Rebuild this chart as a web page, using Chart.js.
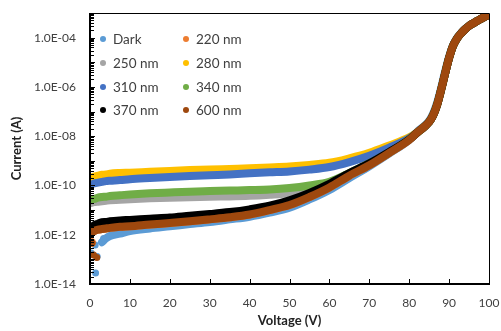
<!DOCTYPE html>
<html><head><meta charset="utf-8">
<script src="https://cdn.jsdelivr.net/npm/chart.js@4.4.1/dist/chart.umd.min.js"></script>
<style>html,body{margin:0;padding:0;background:#fff;}</style>
</head><body>
<canvas id="c" width="501" height="331"></canvas>
<script>
// ---- data (currents in A) ----
const voltage = [0,1,2,3,4,5,7.5,10,15,20,25,30,35,40,45,50,55,60,65,70,75,80,82,84,85,86,87,88,89,90,91,92,93,94,95,96,97,98,99,100];
const seriesNames = ['Dark','220 nm','250 nm','280 nm','310 nm','340 nm','370 nm','600 nm'];
const seriesColors = ['#5B9BD5','#ED7D31','#A5A5A5','#FFC000','#4472C4','#70AD47','#000000','#9E480E'];

const currentDark = [null,null,null,5.0e-13,7.1e-13,8.9e-13,1.1e-12,1.4e-12,1.8e-12,2.2e-12,2.7e-12,3.3e-12,4.2e-12,5.4e-12,7.9e-12,1.26e-11,2.7e-11,6.6e-11,2.0e-10,6.0e-10,2.0e-9,7.1e-9,1.5e-8,2.8e-8,4.2e-8,8.3e-8,2.3e-7,9.1e-7,4.2e-6,1.7e-5,5.0e-5,9.8e-5,1.55e-4,2.25e-4,3.0e-4,3.8e-4,4.7e-4,5.8e-4,7.1e-4,8.5e-4];
const current220 = [1.1e-12,1.4e-12,1.6e-12,1.7e-12,1.8e-12,1.9e-12,2.1e-12,2.2e-12,2.6e-12,3.0e-12,3.5e-12,4.2e-12,5.1e-12,6.6e-12,1.0e-11,1.6e-11,3.4e-11,8.3e-11,2.5e-10,6.6e-10,2.1e-9,7.1e-9,1.4e-8,2.6e-8,3.8e-8,7.1e-8,1.9e-7,7.6e-7,3.5e-6,1.5e-5,4.7e-5,9.3e-5,1.5e-4,2.2e-4,3.0e-4,3.8e-4,4.7e-4,5.8e-4,7.1e-4,8.5e-4];
const current250 = [1.9e-11,2.1e-11,2.2e-11,2.3e-11,2.4e-11,2.5e-11,2.6e-11,2.75e-11,3.0e-11,3.2e-11,3.3e-11,3.5e-11,3.6e-11,3.8e-11,4.2e-11,4.8e-11,6.3e-11,1.05e-10,2.5e-10,7.1e-10,2.1e-9,7.4e-9,1.4e-8,2.6e-8,3.8e-8,7.1e-8,1.9e-7,7.6e-7,3.5e-6,1.5e-5,4.7e-5,9.3e-5,1.5e-4,2.2e-4,3.0e-4,3.8e-4,4.7e-4,5.8e-4,7.1e-4,8.5e-4];
const current280 = [2.0e-10,2.3e-10,2.5e-10,2.7e-10,2.8e-10,3.0e-10,3.2e-10,3.3e-10,3.6e-10,3.9e-10,4.2e-10,4.4e-10,4.7e-10,5.0e-10,5.4e-10,5.9e-10,6.8e-10,8.3e-10,1.26e-9,2.1e-9,4.2e-9,8.9e-9,1.4e-8,2.6e-8,3.8e-8,7.1e-8,1.9e-7,7.6e-7,3.5e-6,1.5e-5,4.7e-5,9.3e-5,1.5e-4,2.2e-4,3.0e-4,3.8e-4,4.7e-4,5.8e-4,7.1e-4,8.5e-4];
const current310 = [1.05e-10,1.2e-10,1.3e-10,1.4e-10,1.5e-10,1.55e-10,1.65e-10,1.8e-10,2.0e-10,2.2e-10,2.4e-10,2.6e-10,2.8e-10,3.1e-10,3.4e-10,3.7e-10,4.4e-10,5.6e-10,8.9e-10,1.6e-9,3.4e-9,8.3e-9,1.4e-8,2.6e-8,3.8e-8,7.1e-8,1.9e-7,7.6e-7,3.5e-6,1.5e-5,4.7e-5,9.3e-5,1.5e-4,2.2e-4,3.0e-4,3.8e-4,4.7e-4,5.8e-4,7.1e-4,8.5e-4];
const current340 = [2.5e-11,2.8e-11,3.2e-11,3.4e-11,3.5e-11,3.7e-11,4.0e-11,4.3e-11,4.8e-11,5.2e-11,5.6e-11,5.9e-11,6.2e-11,6.5e-11,6.9e-11,7.9e-11,1.0e-10,1.4e-10,3.2e-10,7.9e-10,2.2e-9,7.6e-9,1.4e-8,2.6e-8,3.8e-8,7.1e-8,1.9e-7,7.6e-7,3.5e-6,1.5e-5,4.7e-5,9.3e-5,1.5e-4,2.2e-4,3.0e-4,3.8e-4,4.7e-4,5.8e-4,7.1e-4,8.5e-4];
const current370 = [1.8e-12,2.4e-12,2.8e-12,3.2e-12,3.3e-12,3.5e-12,3.8e-12,4.0e-12,4.5e-12,5.0e-12,5.9e-12,6.9e-12,8.3e-12,1.07e-11,1.5e-11,2.5e-11,5.0e-11,1.17e-10,3.2e-10,7.9e-10,2.3e-9,7.4e-9,1.4e-8,2.6e-8,3.8e-8,7.1e-8,1.9e-7,7.6e-7,3.5e-6,1.5e-5,4.7e-5,9.3e-5,1.5e-4,2.2e-4,3.0e-4,3.8e-4,4.7e-4,5.8e-4,7.1e-4,8.5e-4];
const current600 = [1.1e-12,1.4e-12,1.6e-12,1.7e-12,1.8e-12,1.9e-12,2.1e-12,2.2e-12,2.6e-12,3.0e-12,3.5e-12,4.2e-12,5.1e-12,6.6e-12,1.0e-11,1.6e-11,3.4e-11,8.3e-11,2.5e-10,6.6e-10,2.1e-9,7.1e-9,1.4e-8,2.6e-8,3.8e-8,7.1e-8,1.9e-7,7.6e-7,3.5e-6,1.5e-5,4.7e-5,9.3e-5,1.5e-4,2.2e-4,3.0e-4,3.8e-4,4.7e-4,5.8e-4,7.1e-4,8.5e-4];

// isolated noisy points near 0 V
const darkScatterV = [0.1,0.3,1.3,1.4,1.8,3.4];
const darkScatterI = [5.2e-13,1.8e-13,3.8e-13,2.8e-14,1.3e-13,7.0e-13];
const scatter220V = [0.4];
const scatter220I = [4.8e-13];
const scatter600V = [0.5,0.9,1.7];
const scatter600I = [4.6e-13,1.5e-13,1.2e-13];

const xTickValues = [0,10,20,30,40,50,60,70,80,90,100];
const yTickValues = [1e-14,1e-12,1e-10,1e-8,1e-6,1e-4];

const seriesValues = [currentDark,current220,current250,current280,current310,current340,current370,current600];

// ---- build datasets ----
function pts(xs, ys){ const out=[]; xs.forEach((v,i)=>{ if(ys[i]!==null) out.push({x:v,y:ys[i]}); }); return out; }
const datasets = seriesValues.map((vals,i)=>({
  type:'line',
  label: seriesNames[i],
  data: pts(voltage, vals),
  borderColor: seriesColors[i],
  backgroundColor: seriesColors[i],
  borderWidth: 8,
  borderCapStyle:'round',
  borderJoinStyle:'round',
  pointRadius: 0,
  cubicInterpolationMode:'monotone',
  fill:false,
  order: seriesNames.length - i
}));
function scatterSet(xs, ys, idx, r, ord){
  return {type:'scatter', label:'', data: pts(xs, ys), showLine:false,
    pointRadius:r, pointBorderWidth:0, backgroundColor:seriesColors[idx], borderColor:seriesColors[idx], order:ord};
}
datasets.push(scatterSet(darkScatterV, darkScatterI, 0, 3.5, 7.9));
datasets.push(scatterSet(scatter220V, scatter220I, 1, 4.5, 6.9));
datasets.push(scatterSet(scatter600V, scatter600I, 7, 3.5, 0.9));

const tickFont = {family:'Lato', size:12};
const tickColor = '#404040';

const frameAndTicks = {
  id:'frameAndTicks',
  afterDatasetsDraw(chart){
    const {ctx, chartArea:a, scales:{x,y}} = chart;
    ctx.save();
    ctx.strokeStyle='#000'; ctx.fillStyle='#000'; ctx.lineWidth=1;
    ctx.beginPath();
    ctx.moveTo(a.left, a.top+0.5); ctx.lineTo(a.right+0.5, a.top+0.5); ctx.lineTo(a.right+0.5, a.bottom);
    ctx.stroke();
    ctx.fillRect(a.left-1, a.top, 2, a.bottom-a.top+1);
    ctx.fillRect(a.left-1, a.bottom-1, a.right-a.left+2, 2);
    for(let d=-14; d<-3; d++){
      for(let m=1; m<=9; m++){
        const py = Math.round(y.getPixelForValue(m*Math.pow(10,d)))+0.5;
        ctx.beginPath(); ctx.moveTo(a.left, py); ctx.lineTo(a.left+(m===1?5:4), py); ctx.stroke();
      }
    }
    xTickValues.forEach(v=>{
      const px = Math.round(x.getPixelForValue(v))+0.5;
      ctx.beginPath(); ctx.moveTo(px, a.bottom); ctx.lineTo(px, a.bottom-5); ctx.stroke();
    });
    ctx.restore();
  }
};

const insideLegend = {
  id:'insideLegend',
  afterDraw(chart){
    const ctx = chart.ctx;
    const colX = [103, 186];
    const rowY = [39, 63, 87, 110];
    ctx.save();
    ctx.font = '13.5px Lato';
    ctx.textBaseline = 'middle';
    ctx.textAlign = 'left';
    seriesNames.forEach((name,i)=>{
      const cx = colX[i%2], cy = rowY[Math.floor(i/2)];
      ctx.fillStyle = seriesColors[i];
      ctx.beginPath(); ctx.arc(cx, cy, 3, 0, Math.PI*2); ctx.fill();
      ctx.fillStyle = tickColor;
      ctx.fillText(name, cx+10, cy+0.5);
    });
    ctx.restore();
  }
};

new Chart(document.getElementById('c'), {
  type:'line',
  data:{datasets},
  options:{
    responsive:false, animation:false, devicePixelRatio:1,
    layout:{padding:{top:13, right:12, left:0, bottom:0}},
    plugins:{legend:{display:false}, tooltip:{enabled:false}},
    scales:{
      x:{
        type:'linear', min:0, max:100,
        afterBuildTicks(s){ s.ticks = xTickValues.map(v=>({value:v})); },
        afterFit(s){ s.height = 47; s.paddingLeft = 0; s.paddingRight = 0; },
        grid:{display:false, drawTicks:false},
        border:{display:false},
        ticks:{font:tickFont, color:tickColor, padding:12, autoSkip:false, maxRotation:0},
        title:{display:true, text:'Voltage (V)', font:{family:'Lato', size:13, weight:'bold'}, color:'#222', padding:{top:0,bottom:2}}
      },
      y:{
        type:'logarithmic', min:1e-14, max:1e-3,
        afterBuildTicks(s){ s.ticks = yTickValues.map(v=>({value:v})); },
        afterFit(s){ s.width = 90; s.paddingTop = 0; s.paddingBottom = 0; },
        grid:{display:false, drawTicks:false},
        border:{display:false},
        ticks:{font:tickFont, color:tickColor, padding:14, autoSkip:false,
          callback(v){ const e = Math.round(Math.log10(v)); return '1.0E' + (e<0?'-':'+') + String(Math.abs(e)).padStart(2,'0'); }},
        title:{display:true, text:'Current (A)', font:{family:'Lato', size:13, weight:'bold'}, color:'#222', padding:{top:9,bottom:0}}
      }
    }
  },
  plugins:[frameAndTicks, insideLegend]
});
</script>
</body></html>
